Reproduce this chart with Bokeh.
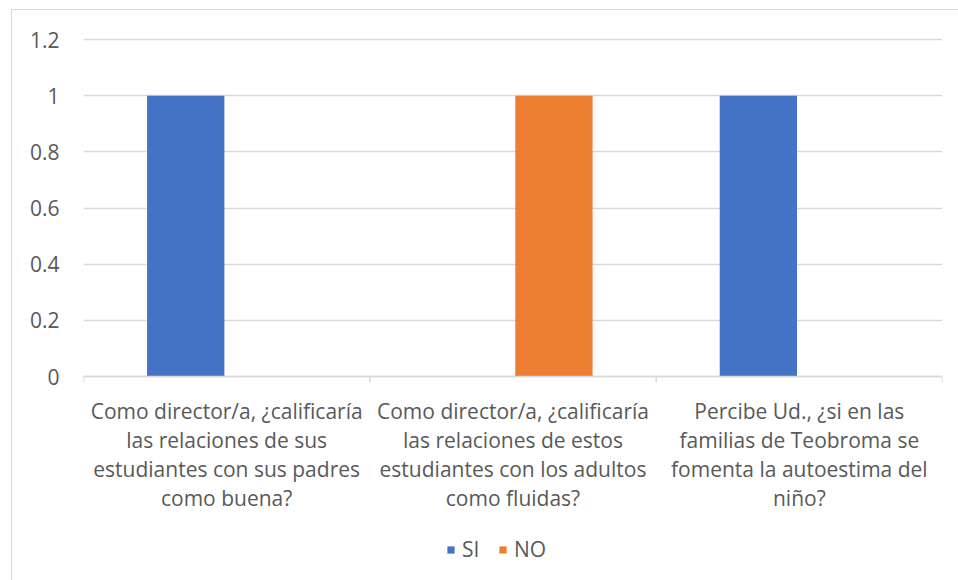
import numpy as np
from bokeh.plotting import figure
from bokeh.models import (ColumnDataSource, FixedTicker, LinearAxis, NumeralTickFormatter,
                          Legend, LegendItem, Range1d, LabelSet, Span)
from bokeh.core.properties import value
from bokeh.transform import dodge
from bokeh.embed import file_html
from bokeh.resources import INLINE

categories = [
    "Como director/a, ¿calificaría\nlas relaciones de sus\nestudiantes con sus padres\ncomo buena?",
    "Como director/a, ¿calificaría\nlas relaciones de estos\nestudiantes con los adultos\ncomo fluidas?",
    "Percibe Ud., ¿si en las\nfamilias de Teobroma se\nfomenta la autoestima del\nniño?",
]
si_values = [1, 0, 1]
no_values = [0, 1, 0]
series_names = ["SI", "NO"]
y_ticks = [0, 0.2, 0.4, 0.6, 0.8, 1.0, 1.2]

FONT = "Open Sans"
FS = "21px"
TXT = "#595959"
GRID = "#d9d9d9"

idx = np.arange(len(categories)) + 0.5
src = ColumnDataSource(dict(x=idx, si=si_values, no=no_values))
bounds = ColumnDataSource(dict(x=list(range(len(categories) + 1)), y=[0] * (len(categories) + 1)))

# category label lines (split from the category names)
lx, ly, lt, lo = [], [], [], []
for i, c in enumerate(categories):
    for j, line in enumerate(c.split("\n")):
        lx.append(idx[i]); ly.append(0); lt.append(line); lo.append(-(34 + 29 * j))
lab_src = ColumnDataSource(dict(x=lx, y=ly, text=lt, off=lo))

# the frame extends below zero so that category labels and legend sit inside it
p = figure(frame_width=859, frame_height=542, output_backend="svg", toolbar_location=None,
           x_range=Range1d(0, len(categories)), y_range=Range1d(-0.726, 1.204),
           min_border_left=71, min_border_right=16, min_border_top=28, min_border_bottom=0,
           x_axis_location=None, y_axis_location=None)
p.outline_line_color = None
p.background_fill_color = "white"
p.border_fill_color = "white"
p.styles = {"border-left": "1px solid #d9d9d9", "border-top": "1px solid #d9d9d9",
            "margin-left": "11px", "margin-top": "9px"}

r_si = p.vbar(x=dodge("x", -0.143, range=p.x_range), top="si", width=0.27, source=src,
              fill_color="#4472C4", line_color=None)
r_no = p.vbar(x=dodge("x", 0.143, range=p.x_range), top="no", width=0.27, source=src,
              fill_color="#ED7D31", line_color=None)

# y axis
yax = LinearAxis(ticker=FixedTicker(ticks=y_ticks), formatter=NumeralTickFormatter(format="0.[0]"))
yax.axis_line_color = None
yax.major_tick_line_color = None
yax.minor_tick_line_color = None
yax.major_label_standoff = 18
yax.major_label_text_font = FONT
yax.major_label_text_font_size = FS
yax.major_label_text_color = TXT
p.add_layout(yax, "left")

p.xgrid.visible = False
p.ygrid.ticker = FixedTicker(ticks=y_ticks)
p.ygrid.grid_line_color = GRID
p.ygrid.grid_line_width = 1.5

# category axis line at zero and boundary ticks
p.add_layout(Span(location=0, dimension="width", line_color=GRID, line_width=1.5))
p.ray(x="x", y="y", length=6, length_units="screen", angle=-np.pi / 2, source=bounds,
      line_color=GRID, line_width=1.5)

labels = LabelSet(x="x", y="y", text="text", y_offset="off", source=lab_src,
                  text_align="center", text_baseline="middle",
                  text_font=value(FONT), text_font_size=value(FS), text_color=value(TXT))
p.add_layout(labels)

legend = Legend(items=[LegendItem(label=series_names[0], renderers=[r_si]),
                       LegendItem(label=series_names[1], renderers=[r_no])],
                orientation="horizontal", location=(363, 17),
                label_text_font=FONT, label_text_font_size=FS, label_text_color=TXT,
                glyph_width=9, glyph_height=9, spacing=16, label_standoff=7,
                border_line_color=None, background_fill_alpha=0, margin=0, padding=2)
p.add_layout(legend, "center")

open("out.html", "w").write(file_html(p, INLINE))
